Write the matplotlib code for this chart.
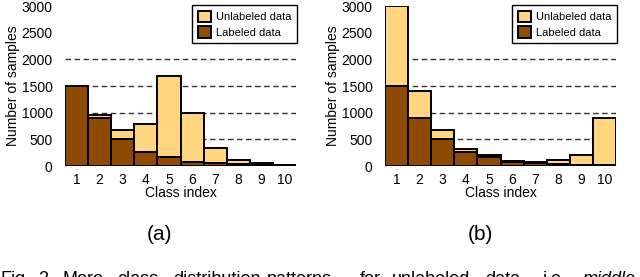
import matplotlib.pyplot as plt
from matplotlib.patches import Patch

plt.rcParams['font.family'] = ['Liberation Sans', 'DejaVu Sans']

# 数据
classes = [1, 2, 3, 4, 5, 6, 7, 8, 9, 10]
labeled = [1500, 900, 500, 270, 170, 80, 50, 30, 15, 10]
total_a = [1500, 955, 680, 780, 1680, 990, 330, 110, 50, 12]
total_b = [3000, 1400, 680, 320, 200, 90, 70, 120, 200, 900]
grid_vals = [500, 1000, 1500, 2000]
yticks = [0, 500, 1000, 1500, 2000, 2500, 3000]

caption_words = ['Fig.', '2.', 'More', 'class', 'distribution', 'patterns', 'for',
                 'unlabeled', 'data,', 'i.e.,', 'middle']
caption_x = [0, 38, 63, 117, 173, 267, 360, 392, 485, 543, 583]  # 像素位置

c_unl = '#FFD580'
c_lab = '#8E4A00'

W, H = 640, 277
fig = plt.figure(figsize=(W / 100, H / 100), dpi=100)


def draw(ax, total):
    for g in grid_vals:
        ax.axhline(g, color='#333333', lw=1.0, ls=(0, (4, 2.5)), zorder=0)
    ax.bar(classes, total, width=1.0, color=c_unl, edgecolor='black', lw=1.4, zorder=2)
    ax.bar(classes, labeled, width=1.0, color=c_lab, edgecolor='black', lw=1.4, zorder=3)
    ax.set_xlim(0.5, 10.5)
    ax.set_ylim(0, 3000)
    ax.set_yticks(yticks)
    ax.set_xticks(classes)
    ax.tick_params(length=0, labelsize=10)
    ax.tick_params(axis='y', pad=9)
    ax.tick_params(axis='x', pad=5)
    for s in ax.spines.values():
        s.set_visible(False)
    ax.set_xlabel('Class index', fontsize=10, labelpad=-1)
    ax.set_ylabel('Number of samples', fontsize=10, labelpad=1)
    handles = [Patch(facecolor=c_unl, edgecolor='black', lw=1.4, label='Unlabeled data'),
               Patch(facecolor=c_lab, edgecolor='black', lw=1.4, label='Labeled data')]
    leg = ax.legend(handles=handles, loc='upper right', bbox_to_anchor=(1.005, 1.006),
                    fontsize=8, fancybox=False, framealpha=1, edgecolor='black',
                    handlelength=1.2, handleheight=1.2, handletextpad=0.45,
                    borderpad=0.5, labelspacing=0.4, borderaxespad=0)
    leg.get_frame().set_linewidth(1.0)
    leg.set_zorder(5)


ax1 = fig.add_axes([65 / W, 111 / H, 231 / W, 160 / H])
ax2 = fig.add_axes([385 / W, 111 / H, 231 / W, 160 / H])
draw(ax1, total_a)
draw(ax2, total_b)

fig.text(160 / W, (H - 234) / H, '(a)', ha='center', va='center', fontsize=15)
fig.text(480 / W, (H - 234) / H, '(b)', ha='center', va='center', fontsize=15)

for w, x in zip(caption_words, caption_x):
    fig.text(x / W, (H - 284) / H, w, ha='left', va='baseline', fontsize=13,
             style='italic' if w == 'middle' else 'normal')

fig.savefig('out.png', dpi=100)
